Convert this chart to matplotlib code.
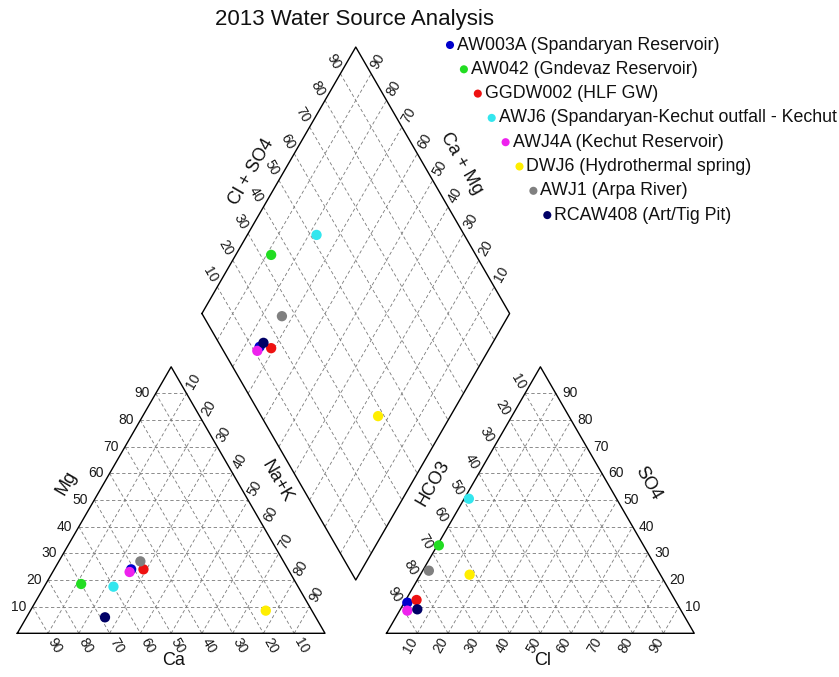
import numpy as np
import matplotlib
matplotlib.use("Agg")
import matplotlib.pyplot as plt

plt.rcParams['font.family'] = ['Liberation Sans', 'DejaVu Sans']

# --- Data (percent of meq) ---
names = ["AW003A (Spandaryan Reservoir)", "AW042 (Gndevaz Reservoir)", "GGDW002 (HLF GW)",
         "AWJ6 (Spandaryan-Kechut outfall - Kechut", "AWJ4A (Kechut Reservoir)",
         "DWJ6 (Hydrothermal spring)", "AWJ1 (Arpa River)", "RCAW408 (Art/Tig Pit)"]
colors = ["#0000cc", "#22dd22", "#ee1111", "#33e6ee", "#ee22ee", "#ffee00", "#808080", "#000066"]

ca = np.array([51, 70, 47, 60, 52, 15, 46.5, 68.5])
mg = np.array([24, 18.5, 24, 17.5, 23, 8.5, 27, 6])
nak = np.array([25, 11.5, 29, 22.5, 25, 76.5, 26.5, 25.5])

hco3 = np.array([87.5, 66.5, 84, 48, 89, 62, 74.5, 85.5])
so4 = np.array([11.5, 33, 12.5, 50.5, 8.5, 22, 23.5, 9])
cl = np.array([1, 0.5, 3.5, 1.5, 2.5, 16, 2, 5.5])

ticks = [10, 20, 30, 40, 50, 60, 70, 80, 90]

# --- Geometry ---
H = np.sqrt(3) / 2
G = 0.2
SIDE = 307.7          # pixels per unit side
X0, Y0 = 17.3, 633.3  # pixel position of left triangle's lower-left corner
W, HT = 839, 677


def cat_xy(m, n):
    return (n + m / 2) / 100, m / 100 * H


def an_xy(s, c):
    return 1 + G + (c + s / 2) / 100, s / 100 * H


def dia_xy(n, a):
    a = a / 100
    c = n / 100
    return 1 + G / 2 + 0.5 * (a - 1 + c), G * H + H * (a + 1 - c)


def px(x, y):
    # pixel (from top-left) -> data
    return (x - X0) / SIDE, (Y0 - y) / SIDE


fig = plt.figure(figsize=(W / 100, HT / 100), dpi=100)
ax = fig.add_axes([0, 0, 1, 1])
ax.set_xlim(-X0 / SIDE, (W - X0) / SIDE)
ax.set_ylim(-(HT - Y0) / SIDE, Y0 / SIDE)
ax.axis("off")

grid_kw = dict(color="#7a7a7a", lw=0.6, dashes=(4, 3), zorder=1)
line_kw = dict(color="black", lw=1.0, zorder=2)
lab_kw = dict(fontsize=10, ha="center", va="center", color="#1a1a1a")
OFF = 14 / SIDE

# --- Grid lines ---
for t in ticks:
    u = 100 - t
    # cation triangle
    ax.plot(*zip(cat_xy(t, 0), cat_xy(t, u)), **grid_kw)
    ax.plot(*zip(cat_xy(u, 0), cat_xy(0, u)), **grid_kw)
    ax.plot(*zip(cat_xy(0, t), cat_xy(u, t)), **grid_kw)
    # anion triangle
    ax.plot(*zip(an_xy(t, 0), an_xy(t, u)), **grid_kw)
    ax.plot(*zip(an_xy(0, t), an_xy(u, t)), **grid_kw)
    ax.plot(*zip(an_xy(0, u), an_xy(u, 0)), **grid_kw)
    # diamond
    ax.plot(*zip(dia_xy(0, t), dia_xy(100, t)), **grid_kw)
    ax.plot(*zip(dia_xy(t, 0), dia_xy(t, 100)), **grid_kw)

# --- Outlines ---
tri = [cat_xy(0, 0), cat_xy(0, 100), cat_xy(100, 0), cat_xy(0, 0)]
ax.plot(*zip(*tri), **line_kw)
tri = [an_xy(0, 0), an_xy(0, 100), an_xy(100, 0), an_xy(0, 0)]
ax.plot(*zip(*tri), **line_kw)
dia = [dia_xy(0, 0), dia_xy(100, 0), dia_xy(100, 100), dia_xy(0, 100), dia_xy(0, 0)]
ax.plot(*zip(*dia), **line_kw)

# --- Tick labels ---
for t in ticks:
    u = 100 - t
    x, y = cat_xy(t, 0)
    ax.text(x - OFF, y, str(t), rotation=0, **lab_kw)
    x, y = cat_xy(0, u)
    ax.text(x + OFF * 0.5, y - OFF * H, str(t), rotation=-60, **lab_kw)
    x, y = cat_xy(u, t)
    ax.text(x + OFF * 0.5, y + OFF * H, str(t), rotation=60, **lab_kw)

    x, y = an_xy(t, u)
    ax.text(x + OFF, y, str(t), rotation=0, **lab_kw)
    x, y = an_xy(0, t)
    ax.text(x - OFF * 0.5, y - OFF * H, str(t), rotation=60, **lab_kw)
    x, y = an_xy(u, 0)
    ax.text(x - OFF * 0.5, y + OFF * H, str(t), rotation=-60, **lab_kw)

    x, y = dia_xy(0, t)
    ax.text(x - OFF * 0.5, y + OFF * H, str(t), rotation=-60, **lab_kw)
    x, y = dia_xy(u, 100)
    ax.text(x + OFF * 0.5, y + OFF * H, str(t), rotation=60, **lab_kw)

# --- Axis titles ---
tkw = dict(fontsize=13, ha="center", va="center", color="#111111")
ax.text(0.160, 0.488, "Mg", rotation=60, **tkw)
ax.text(0.843, 0.493, "Na+K", rotation=-60, **tkw)
ax.text(0.507, -0.087, "Ca", **tkw)
ax.text(1.352, 0.488, "HCO3", rotation=60, **tkw)
ax.text(2.050, 0.488, "SO4", rotation=-60, **tkw)
ax.text(1.706, -0.087, "Cl", **tkw)
ax.text(0.762, 1.500, "Cl + SO4", rotation=60, **tkw)
ax.text(1.444, 1.527, "Ca + Mg", rotation=-60, **tkw)

ax.text(*px(355, 20), "2013 Water Source Analysis", fontsize=16,
        ha="center", va="center", color="#111111")

# --- Data points ---
tot_c = ca + mg + nak
tot_a = hco3 + so4 + cl
mg_p, nak_p = mg / tot_c * 100, nak / tot_c * 100
so4_p, cl_p = so4 / tot_a * 100, cl / tot_a * 100

for i in range(len(names)):
    pts = [cat_xy(mg_p[i], nak_p[i]),
           an_xy(so4_p[i], cl_p[i]),
           dia_xy(nak_p[i], so4_p[i] + cl_p[i])]
    for x, y in pts:
        ax.scatter(x, y, s=55, color=colors[i], edgecolors="none", zorder=3)

# --- Staggered legend ---
for i, (name, col) in enumerate(zip(names, colors)):
    mx, my = 450 + 13.9 * i, 45 + 24.3 * i
    ax.scatter(*px(mx, my), s=34, color=col, edgecolors="none", zorder=3, clip_on=False)
    ax.text(*px(mx + 7, my), name, fontsize=12.8, ha="left", va="center", color="#111111")

fig.savefig("out.png", dpi=100)
